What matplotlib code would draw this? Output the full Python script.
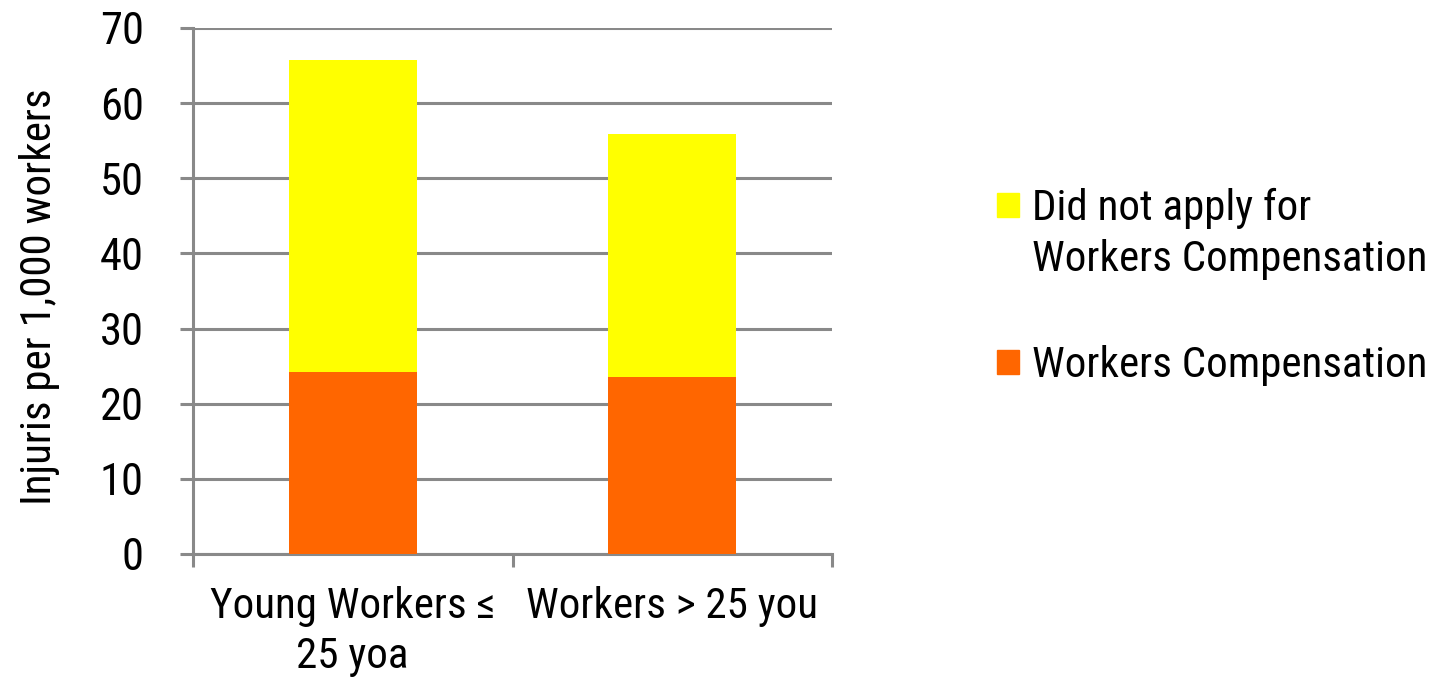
import matplotlib
matplotlib.use('Agg')
import matplotlib.pyplot as plt
from matplotlib import font_manager
from matplotlib.patches import Rectangle

# podatki
kategorije = ['Young Workers ≤\n25 yoa', 'Workers > 25 you']
workers_comp = [24.2, 23.6]
did_not_apply = [41.6, 32.3]
serije = ['Did not apply for\nWorkers Compensation', 'Workers Compensation']
barve = ['#FFFF00', '#FF6600']

imena = {f.name for f in font_manager.fontManager.ttflist}
ozke = [p for p in ['Liberation Sans Narrow', 'Arial Narrow', 'Roboto Condensed'] if p in imena]
if ozke:
    pisava, vel = ozke[0], 31
else:
    pisava, vel = 'Liberation Sans', 27
plt.rcParams['font.family'] = [pisava, 'DejaVu Sans']

W, H = 1438, 683
fig = plt.figure(figsize=(W / 100, H / 100), dpi=100)
ax = fig.add_axes([193 / W, 1 - 554 / H, (832 - 193) / W, (554 - 28) / H])

x = range(len(kategorije))
ax.bar(x, workers_comp, width=0.4, color=barve[1], zorder=3)
ax.bar(x, did_not_apply, width=0.4, bottom=workers_comp, color=barve[0], zorder=3)

siva = '#898989'
ax.set_ylim(0, 70)
ax.set_xlim(-0.5, 1.5)
ax.set_yticks(range(0, 71, 10))
ax.yaxis.grid(True, color=siva, linewidth=2.2, zorder=0)
for s in ['top', 'right']:
    ax.spines[s].set_visible(False)
for s in ['left', 'bottom']:
    ax.spines[s].set_color(siva)
    ax.spines[s].set_linewidth(2.2)

# meje kategorij kot glavne oznake, imena kot pomožne
ax.set_xticks([-0.5, 0.5, 1.5])
ax.set_xticklabels([])
ax.set_xticks([0, 1], minor=True)
ax.set_xticklabels(kategorije, minor=True, fontsize=vel)
ax.tick_params(axis='x', which='minor', length=0, pad=23)
ax.tick_params(axis='x', which='major', length=9, width=2.2, color=siva)
ax.tick_params(axis='y', length=9.4, width=2.2, color=siva, labelsize=vel + 1, pad=26)
for t in ax.get_xticklabels(minor=True):
    t.set_linespacing(1.27)

ax.set_ylabel('Injuris per 1,000 workers', fontsize=vel, va='center')
ax.yaxis.set_label_coords((40 - 193) / (832 - 193), (554 - 297) / (554 - 28))

# legenda: kvadratek poravnan s prvo vrstico
legenda_y = [193, 350]
for barva, oznaka, y0 in zip(barve, serije, legenda_y):
    fig.add_artist(Rectangle((997 / W, 1 - (y0 + 24) / H), 22 / W, 24 / H,
                             transform=fig.transFigure, color=barva))
    for i, vrstica in enumerate(oznaka.split('\n')):
        fig.text(1032 / W, 1 - (y0 + 27 + i * 51) / H, vrstica,
                 fontsize=vel, va='baseline', ha='left')

fig.savefig('out.png', dpi=100)
